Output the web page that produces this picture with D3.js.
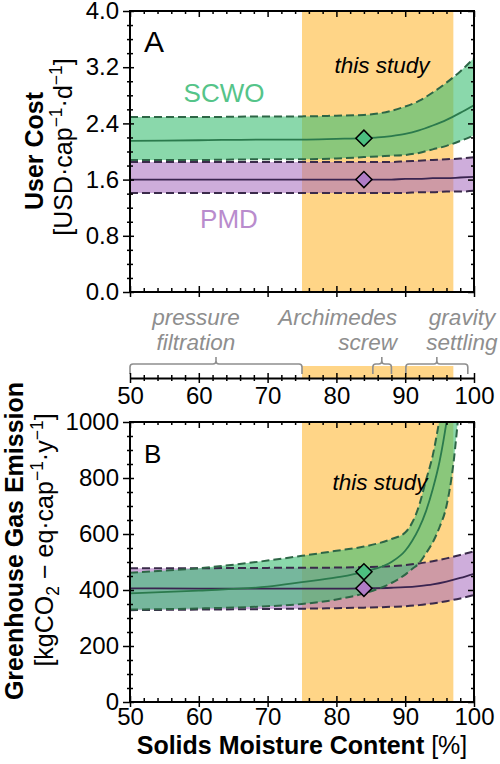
<!DOCTYPE html>
<html lang="en">
<head>
<meta charset="UTF-8">
<title>User cost and greenhouse gas emission vs solids moisture content</title>
<script src="https://cdn.jsdelivr.net/npm/d3@7"></script>
<style>
  body { margin: 0; background: #fff; }
  svg { display: block; }
</style>
</head>
<body>
<div id="chart"></div>
<script>
  // ---- data ----
  const studyRange = [75, 97];
  const studyPoint = 84;

  const moistureTicks = [50, 60, 70, 80, 90, 100];
  const costTicks = [0, 0.8, 1.6, 2.4, 3.2, 4.0];
  const ghgTicks = [0, 200, 400, 600, 800, 1000];

  // panel A: user cost [USD/cap/d]
  const costX       = [50, 60, 70, 75, 80, 84, 86, 88, 90, 92, 94, 96, 98, 100];
  const costScwoMid = [2.15, 2.16, 2.17, 2.17, 2.18, 2.19, 2.20, 2.22, 2.25, 2.30, 2.37, 2.45, 2.55, 2.66];
  const costScwoHi  = [2.49, 2.49, 2.50, 2.50, 2.51, 2.52, 2.54, 2.58, 2.64, 2.72, 2.84, 2.98, 3.14, 3.33];
  const costScwoLo  = [1.88, 1.88, 1.89, 1.89, 1.90, 1.92, 1.93, 1.94, 1.95, 1.98, 2.03, 2.08, 2.15, 2.23];
  const costPmdMid  = [1.60, 1.60, 1.60, 1.60, 1.60, 1.60, 1.60, 1.60, 1.61, 1.61, 1.62, 1.62, 1.63, 1.64];
  const costPmdHi   = [1.85, 1.85, 1.85, 1.85, 1.85, 1.85, 1.85, 1.85, 1.86, 1.87, 1.88, 1.89, 1.90, 1.92];
  const costPmdLo   = [1.41, 1.41, 1.41, 1.41, 1.41, 1.41, 1.41, 1.41, 1.41, 1.42, 1.42, 1.43, 1.43, 1.44];

  // panel B: greenhouse gas emission [kgCO2-eq/cap/y]
  const ghgScwoX   = [50, 60, 70, 75, 80, 84, 88, 90, 91, 92, 93, 94, 95, 96, 97, 98];
  const ghgScwoMid = [388, 398, 412, 428, 445, 465, 500, 540, 575, 620, 680, 760, 860, 1000, 1180, 1400];
  const ghgScwoHi  = [462, 478, 505, 522, 540, 555, 582, 605, 640, 700, 790, 880, 1010, 1150, 1300, 1450];
  const ghgScwoLo  = [330, 334, 342, 350, 366, 388, 425, 455, 475, 495, 530, 570, 625, 700, 850, 1100];
  const ghgPmdX    = [50, 60, 70, 80, 84, 88, 90, 92, 94, 96, 98, 100];
  const ghgPmdMid  = [406, 405, 405, 405, 406, 408, 410, 414, 420, 430, 443, 458];
  const ghgPmdHi   = [478, 478, 479, 480, 482, 485, 489, 495, 503, 513, 525, 538];
  const ghgPmdLo   = [328, 330, 332, 335, 337, 340, 342, 346, 352, 360, 370, 382];

  // dewatering methods shown between the panels
  const methodLines = [["pressure", "filtration"], ["Archimedes", "screw"], ["gravity", "settling"]];
  const methodRanges = [[50, 75], [85.3, 88], [90.1, 99.1]];
  const methodCenters = [62.5, 86.6, 94.6];

  // ---- layout ----
  const FONT = 'Arial, "Liberation Sans", sans-serif';
  const x = d3.scaleLinear().domain([50, 100]).range([130, 474]);
  const yCost = d3.scaleLinear().domain([0, 4]).range([292, 11]);
  const yGhg = d3.scaleLinear().domain([0, 1000]).range([702, 422]);
  const midY = 378;

  const col = {
    study: "#ffd587",
    scwoFill: "rgb(60,190,115)", pmdFill: "rgb(165,105,190)",
    scwoLine: "#2b7a4d", scwoDash: "#2d6646",
    pmdLine: "#3a2450", pmdDash: "#3a2a4a",
    scwoDot: "#4cc080", pmdDot: "#b07cc6",
    scwoText: "#55c489", pmdText: "#b98ccd",
    method: "#8e8e8e"
  };

  const svg = d3.select("#chart").append("svg")
          .attr("width", 500)
          .attr("height", 764)
          .style("font-family", FONT);

  const rows = (xs, lo, mid, hi) => xs.map((v, i) => ({x: v, lo: lo[i], mid: mid[i], hi: hi[i]}));

  const xMinor = d3.range(50, 101, 2).filter(v => v % 10 !== 0);

  function drawPanel(id, y, scwo, pmd, yTicks, yMinor, fmt, showX) {
    const top = y.range()[1], bottom = y.range()[0];

    svg.append("clipPath").attr("id", id)
            .append("rect")
            .attr("x", x(50)).attr("y", top)
            .attr("width", x(100) - x(50)).attr("height", bottom - top);

    const g = svg.append("g").attr("clip-path", `url(#${id})`);

    // study window
    g.append("rect")
            .attr("x", x(studyRange[0])).attr("y", top)
            .attr("width", x(studyRange[1]) - x(studyRange[0]))
            .attr("height", bottom - top)
            .attr("fill", col.study);

    const area = d3.area().curve(d3.curveMonotoneX)
            .x(d => x(d.x)).y0(d => y(d.lo)).y1(d => y(d.hi));
    const line = key => d3.line().curve(d3.curveMonotoneX).x(d => x(d.x)).y(d => y(d[key]));

    g.append("path").datum(pmd).attr("d", area).attr("fill", col.pmdFill).attr("fill-opacity", 0.55);
    g.append("path").datum(scwo).attr("d", area).attr("fill", col.scwoFill).attr("fill-opacity", 0.6);

    [[pmd, col.pmdDash, col.pmdLine], [scwo, col.scwoDash, col.scwoLine]].forEach(([data, dash, solid]) => {
      ["hi", "lo"].forEach(k => {
        g.append("path").datum(data).attr("d", line(k))
                .attr("fill", "none").attr("stroke", dash)
                .attr("stroke-width", 2).attr("stroke-dasharray", "8,4");
      });
      g.append("path").datum(data).attr("d", line("mid"))
              .attr("fill", "none").attr("stroke", solid).attr("stroke-width", 1.8);
    });

    // markers at the study point
    const diamond = d3.symbol().type(d3.symbolSquare).size(130);
    [[pmd, col.pmdDot], [scwo, col.scwoDot]].forEach(([data, fill]) => {
      const p = data.find(d => d.x === studyPoint);
      svg.append("path")
              .attr("d", diamond())
              .attr("transform", `translate(${x(p.x)},${y(p.mid)}) rotate(45)`)
              .attr("fill", fill).attr("stroke", "#000").attr("stroke-width", 1.5);
    });

    // axes
    const styleAxis = (ga, remove = true) => {
      if (remove) ga.select(".domain").remove();
      ga.attr("font-family", FONT).attr("font-size", 24);
      ga.selectAll(".tick line").attr("stroke-width", 1.5);
      return ga;
    };

    const left = styleAxis(svg.append("g").attr("transform", `translate(${x(50)},0)`)
            .call(d3.axisLeft(y).tickValues(yTicks).tickFormat(fmt).tickSizeOuter(0)));
    left.selectAll(".tick line").attr("x1", 4).attr("x2", -7);
    left.selectAll(".tick text").attr("x", -11).attr("fill", "#000");
    const leftMinor = styleAxis(svg.append("g").attr("transform", `translate(${x(50)},0)`)
            .call(d3.axisLeft(y).tickValues(yMinor).tickFormat("").tickSizeOuter(0)));
    leftMinor.selectAll(".tick line").attr("x1", 3).attr("x2", -3);

    styleAxis(svg.append("g").attr("transform", `translate(${x(100)},0)`)
            .call(d3.axisRight(y).tickValues(yTicks).tickFormat("").tickSize(-6).tickSizeOuter(0)));
    styleAxis(svg.append("g").attr("transform", `translate(${x(100)},0)`)
            .call(d3.axisRight(y).tickValues(yMinor).tickFormat("").tickSize(-3).tickSizeOuter(0)));

    styleAxis(svg.append("g").attr("transform", `translate(0,${top})`)
            .call(d3.axisTop(x).tickValues(moistureTicks).tickFormat("").tickSize(-6).tickSizeOuter(0)));
    styleAxis(svg.append("g").attr("transform", `translate(0,${top})`)
            .call(d3.axisTop(x).tickValues(xMinor).tickFormat("").tickSize(-3).tickSizeOuter(0)));

    const bot = styleAxis(svg.append("g").attr("transform", `translate(0,${bottom})`)
            .call(d3.axisBottom(x).tickValues(moistureTicks).tickFormat(showX ? d3.format("d") : "").tickSizeOuter(0)));
    bot.selectAll(".tick line").attr("y1", -6).attr("y2", 5);
    bot.selectAll(".tick text").attr("y", 23).attr("dy", 0).attr("fill", "#000");
    const botMinor = styleAxis(svg.append("g").attr("transform", `translate(0,${bottom})`)
            .call(d3.axisBottom(x).tickValues(xMinor).tickFormat("").tickSizeOuter(0)));
    botMinor.selectAll(".tick line").attr("y1", -4).attr("y2", 1);

    svg.append("rect")
            .attr("x", x(50)).attr("y", top)
            .attr("width", x(100) - x(50)).attr("height", bottom - top)
            .attr("fill", "none").attr("stroke", "#000").attr("stroke-width", 2);
  }

  drawPanel("clipA", yCost,
          rows(costX, costScwoLo, costScwoMid, costScwoHi),
          rows(costX, costPmdLo, costPmdMid, costPmdHi),
          costTicks, d3.range(0, 4.01, 0.2).filter(v => Math.abs(v / 0.8 - Math.round(v / 0.8)) > 1e-6),
          d3.format(".1f"), false);

  drawPanel("clipB", yGhg,
          rows(ghgScwoX, ghgScwoLo, ghgScwoMid, ghgScwoHi),
          rows(ghgPmdX, ghgPmdLo, ghgPmdMid, ghgPmdHi),
          ghgTicks, d3.range(0, 1001, 50).filter(v => v % 200 !== 0),
          d3.format("d"), true);

  // ---- middle strip: dewatering methods ----
  const mid = svg.append("g");
  mid.append("rect")
          .attr("x", x(studyRange[0])).attr("y", midY - 12)
          .attr("width", x(studyRange[1]) - x(studyRange[0])).attr("height", 12)
          .attr("fill", col.study);

  methodRanges.forEach((r, i) => {
    const a = x(r[0]), b = x(r[1]), c = x(methodCenters[i]), h = midY - 14, rr = 3;
    const p = d3.path();
    p.moveTo(a, midY - 4);
    p.lineTo(a, h + rr);
    p.quadraticCurveTo(a, h, a + rr, h);
    p.lineTo(c - rr, h);
    p.quadraticCurveTo(c, h, c, h - rr);
    p.lineTo(c, h - 7);
    p.moveTo(c, h - rr);
    p.quadraticCurveTo(c, h, c + rr, h);
    p.lineTo(b - rr, h);
    p.quadraticCurveTo(b, h, b, h + rr);
    p.lineTo(b, midY - 4);
    mid.append("path").attr("d", p.toString())
            .attr("fill", "none").attr("stroke", col.method).attr("stroke-width", 1.6);
  });

  const methodAnchors = [[196, "middle"], [397, "end"], [462, "middle"]];
  methodLines.forEach((lines, i) => {
    lines.forEach((t, j) => {
      mid.append("text")
              .attr("x", methodAnchors[i][0]).attr("y", 325 + j * 25)
              .attr("text-anchor", methodAnchors[i][1])
              .attr("font-size", 22.5).attr("font-style", "italic")
              .attr("fill", col.method)
              .text(t);
    });
  });

  const midAxis = mid.append("g").attr("transform", `translate(0,${midY})`)
          .call(d3.axisBottom(x).tickValues(moistureTicks).tickFormat(d3.format("d")).tickSizeOuter(0))
          .attr("font-family", FONT).attr("font-size", 24);
  midAxis.select(".domain").attr("stroke-width", 2);
  midAxis.selectAll(".tick line").attr("y1", -5).attr("y2", 5).attr("stroke-width", 1.5);
  midAxis.selectAll(".tick text").attr("y", 26).attr("dy", 0).attr("fill", "#000");
  const midMinor = mid.append("g").attr("transform", `translate(0,${midY})`)
          .call(d3.axisBottom(x).tickValues(xMinor).tickFormat("").tickSizeOuter(0));
  midMinor.select(".domain").remove();
  midMinor.selectAll(".tick line").attr("y1", -3).attr("y2", 3).attr("stroke-width", 1.5);

  // ---- annotations ----
  const note = (tx, ty, txt, opts = {}) => svg.append("text")
          .attr("x", tx).attr("y", ty)
          .attr("text-anchor", opts.anchor || "start")
          .attr("font-size", opts.size || 24)
          .attr("font-style", opts.italic ? "italic" : null)
          .attr("font-weight", opts.bold ? "bold" : null)
          .attr("fill", opts.fill || "#000")
          .text(txt);

  note(144, 52, "A", {size: 30});
  note(144, 463, "B", {size: 26});
  note(224, 102, "SCWO", {size: 26, anchor: "middle", fill: col.scwoText});
  note(229, 228, "PMD", {size: 26, anchor: "middle", fill: col.pmdText});
  note(382, 73, "this study", {size: 22.5, anchor: "middle", italic: true});
  note(380, 490, "this study", {size: 22.5, anchor: "middle", italic: true});

  // rich text with super/subscripts
  function rich(sel, parts, size) {
    parts.forEach(p => {
      const s = sel.append("tspan").text(p.t);
      if (p.sup) s.attr("font-size", size * 0.7).attr("dy", -size * 0.4);
      if (p.sub) s.attr("font-size", size * 0.7).attr("dy", size * 0.25);
      if (p.back) s.attr("dy", p.back * size);
    });
  }

  const yTitle = (cx, cy, size, bold) => svg.append("text")
          .attr("transform", `translate(${cx},${cy}) rotate(-90)`)
          .attr("text-anchor", "middle")
          .attr("font-size", size)
          .attr("font-weight", bold ? "bold" : null);

  yTitle(43, 151, 25, true).text("User Cost");
  rich(yTitle(72, 147, 25, false), [
    {t: "[USD·cap"}, {t: "−1", sup: true}, {t: "·d", back: 0.4}, {t: "−1", sup: true}, {t: "]", back: 0.4}
  ], 25);

  yTitle(23, 541, 25, true).text("Greenhouse Gas Emission");
  rich(yTitle(53, 540, 25, false), [
    {t: "[kgCO"}, {t: "2", sub: true}, {t: " − eq·cap", back: -0.25}, {t: "−1", sup: true},
    {t: "·y", back: 0.4}, {t: "−1", sup: true}, {t: "]", back: 0.4}
  ], 25);

  const xTitle = svg.append("text")
          .attr("x", 302).attr("y", 754)
          .attr("text-anchor", "middle")
          .attr("font-size", 25);
  xTitle.append("tspan").attr("font-weight", "bold").text("Solids Moisture Content ");
  xTitle.append("tspan").text("[%]");
</script>
</body>
</html>
